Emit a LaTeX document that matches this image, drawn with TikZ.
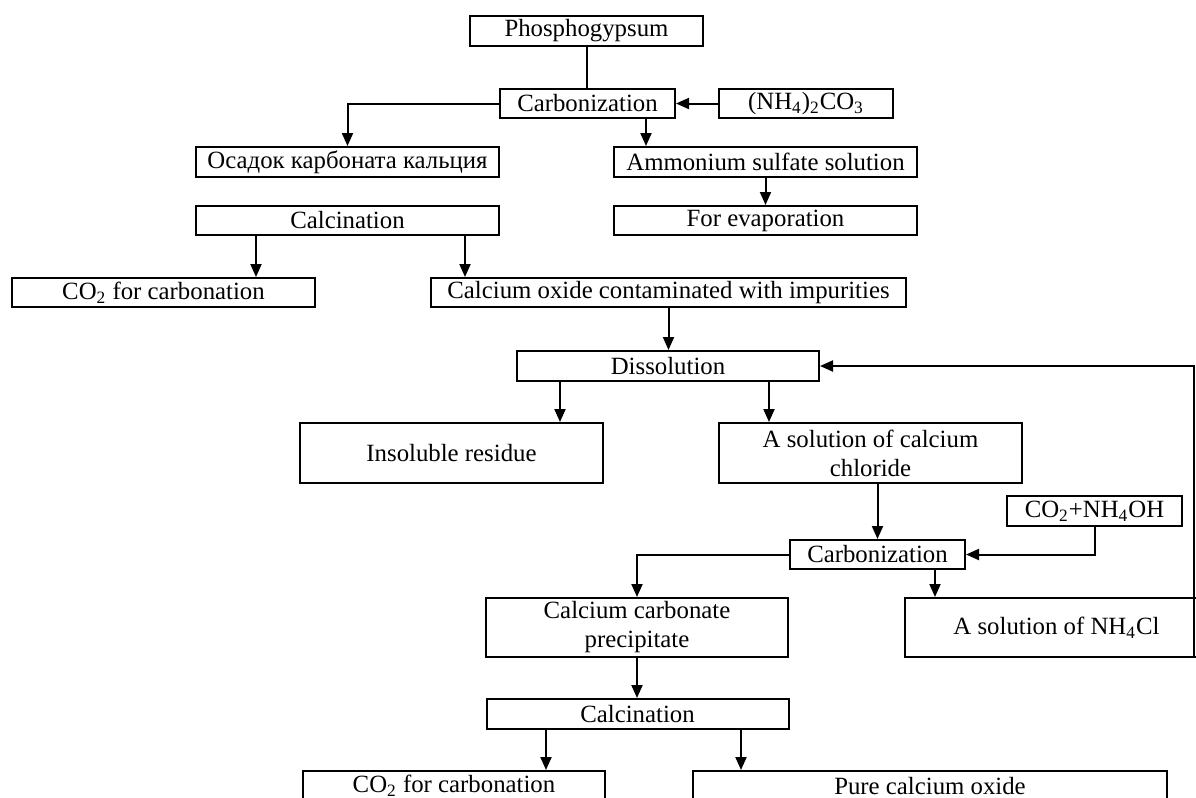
\documentclass[tikz,border=0pt]{standalone}
\usepackage{fontspec}
\setmainfont{Liberation Serif}
\usepackage{tikz}
\usetikzlibrary{arrows.meta}

\begin{document}
\begin{tikzpicture}[x=0.5pt, y=-0.5pt, >={Triangle[width=5.5pt,length=6.5pt]},
  stage/.style={draw, line width=1pt, align=center, inner sep=0pt,
    minimum width=151.5pt, minimum height=15pt,
    font=\fontsize{12.4}{14.5}\selectfont},
  tall/.style={minimum height=30pt},
  flow/.style={line width=1pt}]
  \clip (0,0) rectangle (1196,798);
  \fill[white] (0,0) rectangle (1196,798);

  % first stage
  \node[stage, minimum width=116.5pt] (phos) at (586.5,31) {Phosphogypsum};
  \node[stage, minimum width=87.5pt, minimum height=14.5pt] (carb1) at (587.5,103.5) {Carbonization};
  \node[stage, minimum width=87pt, minimum height=14.5pt] (ammcarb) at (806,103.5) {(NH\textsubscript{4})\textsubscript{2}CO\textsubscript{3}};
  \node[stage] (osadok) at (347.5,162) {Осадок карбоната кальция};
  \node[stage] (ammsulf) at (765.5,162) {Ammonium sulfate solution};
  \node[stage, minimum height=14.5pt] (calc1) at (347.5,220.5) {Calcination};
  \node[stage, minimum height=14.5pt] (evap) at (765.5,220.5) {For evaporation};
  \node[stage, minimum height=14.5pt] (co2a) at (163.5,292.5) {CO\textsubscript{2} for carbonation};
  \node[stage, minimum width=237.5pt, minimum height=14.5pt] (caoimp) at (668.5,292.5) {Calcium oxide contaminated with impurities};

  % second stage
  \node[stage, minimum width=151pt] (dissol) at (668,366) {Dissolution};
  \node[stage, tall] (insol) at (451.5,453) {Insoluble residue};
  \node[stage, tall] (cacl) at (870.5,453) {A solution of calcium\\chloride};
  \node[stage, minimum width=87.5pt] (co2nh) at (1094.5,511) {CO\textsubscript{2}+NH\textsubscript{4}OH};
  \node[stage, minimum width=87.5pt, minimum height=14.5pt] (carb2) at (877.5,554.5) {Carbonization};
  \node[stage, minimum width=151pt, minimum height=29.5pt] (caco3) at (637,627.5) {Calcium carbonate\\precipitate};
  \node[stage, minimum height=29.5pt] (nh4cl) at (1056.5,627.5) {A solution of NH\textsubscript{4}Cl};
  \node[stage, minimum width=151pt] (calc2) at (637.5,714) {Calcination};
  \node[stage, minimum width=151pt] (co2b) at (454,786) {CO\textsubscript{2} for carbonation};
  \node[stage, minimum width=237pt] (pureca) at (930,786) {Pure calcium oxide};
  \coordinate (back) at (1194,657);

  \draw[flow] (phos.south) -- (phos.south |- carb1.north);
  \draw[flow, ->] (ammcarb.west) -- (carb1.east);
  \draw[flow, ->] (carb1.west) -| (osadok.north);
  \draw[flow, ->] ([xshift=29.25pt]carb1.south) -- ([xshift=29.25pt]carb1.south |- ammsulf.north);
  \draw[flow, ->] (ammsulf.south) -- (evap.north);
  \draw[flow, ->] ([xshift=-45.75pt]calc1.south) -- ([xshift=-45.75pt]calc1.south |- co2a.north);
  \draw[flow, ->] ([xshift=58.75pt]calc1.south) -- ([xshift=58.75pt]calc1.south |- caoimp.north);
  \draw[flow, ->] (caoimp.south) -- (caoimp.south |- dissol.north);

  \draw[flow, ->] ([xshift=-54pt]dissol.south) -- ([xshift=-54pt]dissol.south |- insol.north);
  \draw[flow, ->] ([xshift=50.5pt]dissol.south) -- ([xshift=50.5pt]dissol.south |- cacl.north);
  \draw[flow, ->] (carb2.north |- cacl.south) -- (carb2.north);
  \draw[flow, ->] (co2nh.south) |- (carb2.east);
  \draw[flow, ->] (carb2.west) -| (caco3.north);
  \draw[flow, ->] ([xshift=28.75pt]carb2.south) -- ([xshift=28.75pt]carb2.south |- nh4cl.north);
  \draw[flow, ->] (back) |- (dissol.east);
  \draw[flow, ->] (caco3.south) -- (caco3.south |- calc2.north);
  \draw[flow, ->] ([xshift=-45.75pt]calc2.south) -- ([xshift=-45.75pt]calc2.south |- co2b.north);
  \draw[flow, ->] ([xshift=51.75pt]calc2.south) -- ([xshift=51.75pt]calc2.south |- pureca.north);
\end{tikzpicture}
\end{document}
